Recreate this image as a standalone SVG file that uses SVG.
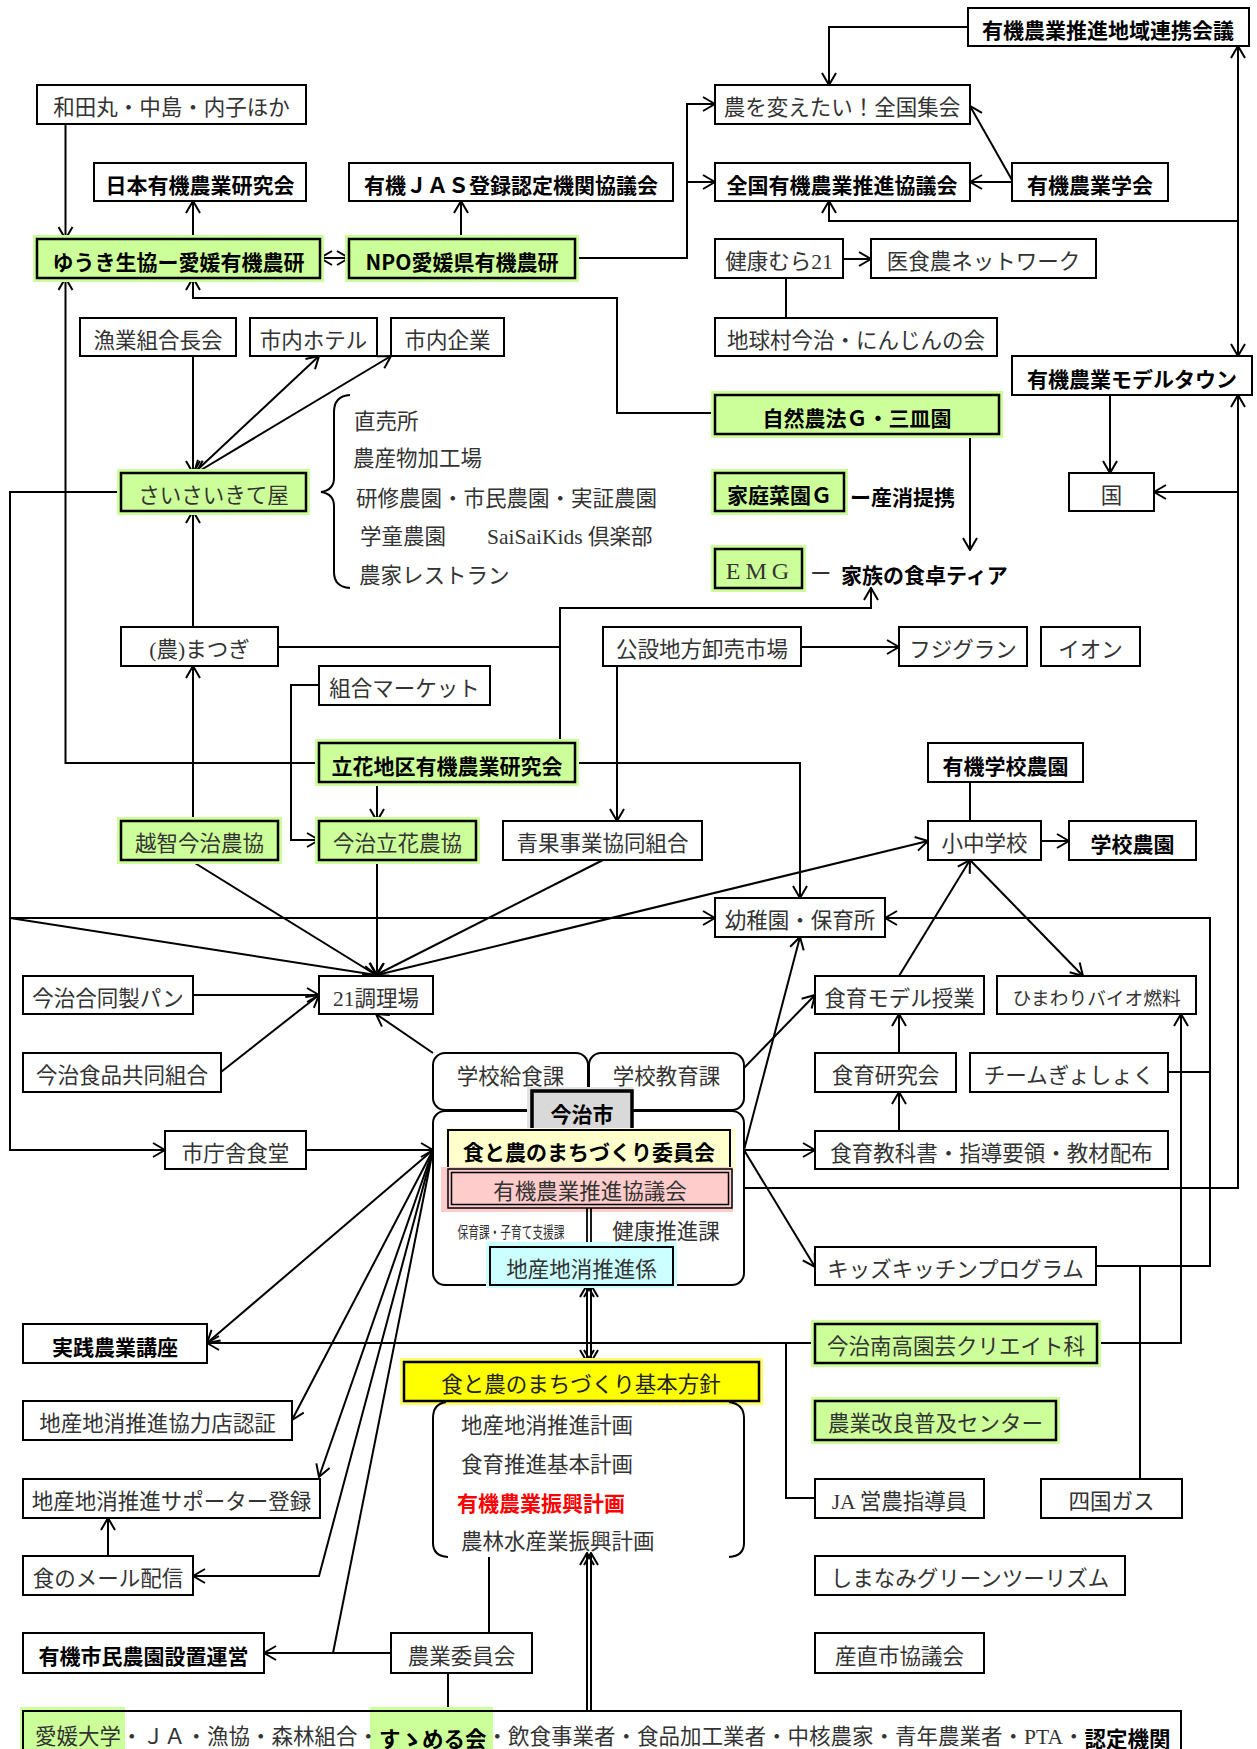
<svg xmlns="http://www.w3.org/2000/svg" width="1257" height="1749" viewBox="0 0 1257 1749">
<style>
.b{fill:#fff;stroke:#000;stroke-width:2}
.g{fill:#ccff99;stroke:#000;stroke-width:2.5}
.h{fill:#ccff99}
.n{font-family:'Liberation Serif','Noto Sans CJK JP',serif;font-size:21.5px;fill:#333;text-anchor:middle;dominant-baseline:central;transform:translateY(3.5px)}
.k{font-family:'Noto Sans CJK JP',sans-serif;font-weight:700;font-size:21px;fill:#000;text-anchor:middle;dominant-baseline:central;transform:translateY(2px)}
.l{text-anchor:start}
.c{fill:none;stroke:#000;stroke-width:2}
</style>
<defs>
<marker id="ar" viewBox="0 0 14 16" refX="13" refY="8" markerWidth="14" markerHeight="16" markerUnits="userSpaceOnUse" orient="auto-start-reverse"><path d="M1,1 L13,8 L1,15" fill="none" stroke="#000" stroke-width="2"/></marker>
</defs>
<rect width="1257" height="1749" fill="#fff"/>

<g id="connectors" class="c">
<path d="M968,27 L829,27 L829,85" marker-end="url(#ar)"/>
<path d="M575,258 L687,258 L687,104 L715,104" marker-end="url(#ar)"/>
<path d="M687,182 L715,182" marker-end="url(#ar)"/>
<path d="M1012,182 L970,182" marker-end="url(#ar)"/>
<path d="M1012,180 L970,106" marker-end="url(#ar)"/>
<path d="M1238,46 L1238,356" marker-start="url(#ar)" marker-end="url(#ar)"/>
<path d="M1238,221 L829,221 L829,201" marker-end="url(#ar)"/>
<path d="M744,1188 L1238,1188 L1238,395" marker-end="url(#ar)"/>
<path d="M1238,492 L1154,492" marker-end="url(#ar)"/>
<path d="M1110,395 L1110,473" marker-end="url(#ar)"/>
<path d="M843,259 L871,259" marker-end="url(#ar)"/>
<path d="M786,278 L786,318"/>
<path d="M65.5,124 L65.5,239" marker-end="url(#ar)"/>
<path d="M193,239 L193,201" marker-end="url(#ar)"/>
<path d="M461,239 L461,201" marker-end="url(#ar)"/>
<path d="M320,258 L349,258" marker-start="url(#ar)" marker-end="url(#ar)"/>
<path d="M715,413 L617,413 L617,298 L193,298 L193,278" marker-end="url(#ar)"/>
<path d="M319,763 L65.5,763 L65.5,278" marker-end="url(#ar)"/>
<path d="M193,356 L193,473" marker-end="url(#ar)"/>
<path d="M194,473 L319,356" marker-start="url(#ar)" marker-end="url(#ar)"/>
<path d="M196,473 L391,356" marker-start="url(#ar)" marker-end="url(#ar)"/>
<path d="M121,492 L10,492 L10,1150 L165,1150" marker-end="url(#ar)"/>
<path d="M10,918 L715,918" marker-end="url(#ar)"/>
<path d="M10,918 L376,975" marker-end="url(#ar)"/>
<path d="M193,627 L193,511" marker-end="url(#ar)"/>
<path d="M193,821 L193,666" marker-end="url(#ar)"/>
<path d="M278,647 L560,647"/>
<path d="M560,743 L560,608 L871,608 L871,588" marker-end="url(#ar)"/>
<path d="M970,434 L970,550" marker-end="url(#ar)"/>
<path d="M801,647 L899,647" marker-end="url(#ar)"/>
<path d="M617,666 L617,821" marker-end="url(#ar)"/>
<path d="M319,685 L291,685 L291,840 L319,840" marker-end="url(#ar)"/>
<path d="M377,782 L377,821" marker-end="url(#ar)"/>
<path d="M575,763 L800,763 L800,898" marker-end="url(#ar)"/>
<path d="M190,860 L376,975" marker-end="url(#ar)"/>
<path d="M377,860 L377,975" marker-end="url(#ar)"/>
<path d="M603,860 L376,975" marker-end="url(#ar)"/>
<path d="M377,975 L928,841" marker-end="url(#ar)"/>
<path d="M970,782 L970,821"/>
<path d="M1041,841 L1069,841" marker-end="url(#ar)"/>
<path d="M899,976 L970,860" marker-end="url(#ar)"/>
<path d="M970,860 L1083,976" marker-end="url(#ar)"/>
<path d="M899,1053 L899,1014" marker-end="url(#ar)"/>
<path d="M899,1131 L899,1092" marker-end="url(#ar)"/>
<path d="M1096,1266 L1210,1266 L1210,918 L885,918" marker-end="url(#ar)"/>
<path d="M1168,1072 L1210,1072"/>
<path d="M1140,1266 L1140,1479"/>
<path d="M1097,1343 L1181,1343 L1181,1014" marker-end="url(#ar)"/>
<path d="M744,1068 L815,995" marker-end="url(#ar)"/>
<path d="M744,1150 L800,937" marker-end="url(#ar)"/>
<path d="M744,1150 L815,1150" marker-end="url(#ar)"/>
<path d="M744,1150 L815,1267" marker-end="url(#ar)"/>
<path d="M193,995 L319,995" marker-end="url(#ar)"/>
<path d="M221,1072 L319,995" marker-end="url(#ar)"/>
<path d="M433,1053 L376,1014" marker-end="url(#ar)"/>
<path d="M306,1150 L433,1150" marker-end="url(#ar)"/>
<path d="M433,1150 L207,1343" marker-end="url(#ar)"/>
<path d="M433,1150 L292,1420" marker-end="url(#ar)"/>
<path d="M433,1150 L319,1477" marker-end="url(#ar)"/>
<path d="M433,1150 L319,1576 L193,1576" marker-end="url(#ar)"/>
<path d="M433,1150 L333,1653"/>
<path d="M391,1653 L264,1653" marker-end="url(#ar)"/>
<path d="M108,1556 L108,1518" marker-end="url(#ar)"/>
<path d="M815,1343 L207,1343" marker-end="url(#ar)"/>
<path d="M786,1343 L786,1498 L815,1498"/>
<path d="M587,1285 L587,1362" marker-start="url(#ar)" marker-end="url(#ar)"/>
<path d="M591,1285 L591,1362" marker-start="url(#ar)" marker-end="url(#ar)"/>
<path d="M587,1711 L587,1553" marker-end="url(#ar)"/>
<path d="M591,1711 L591,1553" marker-end="url(#ar)"/>
<path d="M489,1557 L489,1633"/>
<path d="M448,1673 L448,1711"/>
</g>

<g id="n-renkei"><rect class="b" x="968" y="8" width="281" height="38"/><text class="k" x="1108" y="27">有機農業推進地域連携会議</text></g>
<g id="n-zenkoku-shukai"><rect class="b" x="715" y="85" width="255" height="39"/><text class="n" x="842" y="104.5">農を変えたい！全国集会</text></g>
<g id="n-zenkoku-kyogikai"><rect class="b" x="715" y="163" width="255" height="38"/><text class="k" x="842" y="182">全国有機農業推進協議会</text></g>
<g id="n-gakkai"><rect class="b" x="1012" y="163" width="156" height="38"/><text class="k" x="1090" y="182">有機農業学会</text></g>
<g id="n-wadamaru"><rect class="b" x="37" y="85" width="269" height="39"/><text class="n" x="171.5" y="104.5">和田丸・中島・内子ほか</text></g>
<g id="n-nihon"><rect class="b" x="94" y="163" width="212" height="38"/><text class="k" x="200" y="182">日本有機農業研究会</text></g>
<g id="n-jas"><rect class="b" x="349" y="163" width="324" height="38"/><text class="k" x="511" y="182">有機ＪＡＳ登録認定機関協議会</text></g>
<g id="n-yuuki"><rect class="h" x="33" y="235" width="291" height="47"/><rect class="g" x="37" y="239" width="283" height="39"/><text class="k" x="178.5" y="258.5">ゆうき生協ー愛媛有機農研</text></g>
<g id="n-npo"><rect class="h" x="345" y="235" width="234" height="47"/><rect class="g" x="349" y="239" width="226" height="39"/><text class="k" x="462" y="258.5">NPO愛媛県有機農研</text></g>
<g id="n-kenko21"><rect class="b" x="715" y="239" width="128" height="39"/><text class="n" x="779" y="258.5">健康むら21</text></g>
<g id="n-ishokuno"><rect class="b" x="871" y="239" width="225" height="39"/><text class="n" x="983.5" y="258.5">医食農ネットワーク</text></g>
<g id="n-chikyumura"><rect class="b" x="715" y="318" width="282" height="38"/><text class="n" x="856" y="337">地球村今治・にんじんの会</text></g>
<g id="n-gyogyo"><rect class="b" x="80" y="318" width="156" height="38"/><text class="n" x="158" y="337">漁業組合長会</text></g>
<g id="n-hotel"><rect class="b" x="250" y="318" width="127" height="38"/><text class="n" x="313.5" y="337">市内ホテル</text></g>
<g id="n-kigyo"><rect class="b" x="391" y="318" width="113" height="38"/><text class="n" x="447.5" y="337">市内企業</text></g>
<g id="n-modeltown"><rect class="b" x="1012" y="356" width="240" height="39"/><text class="k" x="1132" y="375.5">有機農業モデルタウン</text></g>
<g id="n-shizen"><rect class="h" x="711" y="391" width="292" height="47"/><rect class="g" x="715" y="395" width="284" height="39"/><text class="k" x="857" y="414.5">自然農法Ｇ・三皿園</text></g>
<g id="n-saisai"><rect class="h" x="117" y="469" width="193" height="46"/><rect class="g" x="121" y="473" width="185" height="38"/><text class="n" x="213.5" y="492">さいさいきて屋</text></g>
<g id="n-saisai-list">
<path class="c" d="M350,395 Q334,396 334,412 L334,478 Q334,490 321,492 Q334,494 334,506 L334,572 Q334,587 350,588"/>
<text class="n l" x="354" y="418">直売所</text>
<text class="n l" x="353" y="455">農産物加工場</text>
<text class="n l" x="356" y="495">研修農園・市民農園・実証農園</text>
<text class="n l" x="360" y="533">学童農園</text>
<text class="n l" x="487" y="533">SaiSaiKids 倶楽部</text>
<text class="n l" x="359" y="572">農家レストラン</text>
</g>
<g id="n-katei"><rect class="h" x="711" y="469" width="137" height="46"/><rect class="g" x="715" y="473" width="129" height="38"/><text class="k" x="779.5" y="492">家庭菜園Ｇ</text><text class="k l" x="850" y="494">ー産消提携</text></g>
<g id="n-kuni"><rect class="b" x="1069" y="473" width="85" height="38"/><text class="n" x="1111.5" y="492">国</text></g>
<g id="n-emg"><rect class="h" x="711" y="545" width="95" height="47"/><rect class="g" x="715" y="549" width="87" height="39"/><text class="n" x="760" y="567" style="letter-spacing:5px;font-size:24px">EMG</text><text class="n l" x="810" y="570">ー</text><text class="k l" x="841" y="572">家族の食卓ティア</text></g>
<g id="n-matsugi"><rect class="b" x="121" y="627" width="157" height="39"/><text class="n" x="199.5" y="646.5">(農)まつぎ</text></g>
<g id="n-kosetsu"><rect class="b" x="603" y="627" width="198" height="39"/><text class="n" x="702" y="646.5">公設地方卸売市場</text></g>
<g id="n-fuji"><rect class="b" x="899" y="627" width="128" height="39"/><text class="n" x="963" y="646.5">フジグラン</text></g>
<g id="n-aeon"><rect class="b" x="1041" y="627" width="99" height="39"/><text class="n" x="1090.5" y="646.5">イオン</text></g>
<g id="n-kumiai"><rect class="b" x="319" y="666" width="171" height="39"/><text class="n" x="404.5" y="685.5">組合マーケット</text></g>
<g id="n-tachibana-ken"><rect class="h" x="315" y="739" width="264" height="47"/><rect class="g" x="319" y="743" width="256" height="39"/><text class="k" x="447" y="762.5">立花地区有機農業研究会</text></g>
<g id="n-yuki-gakko"><rect class="b" x="928" y="743" width="155" height="39"/><text class="k" x="1005.5" y="762.5">有機学校農園</text></g>
<g id="n-ochi"><rect class="h" x="117" y="817" width="165" height="47"/><rect class="g" x="121" y="821" width="157" height="39"/><text class="n" x="199.5" y="840.5">越智今治農協</text></g>
<g id="n-tachibana-nk"><rect class="h" x="315" y="817" width="165" height="47"/><rect class="g" x="319" y="821" width="157" height="39"/><text class="n" x="397.5" y="840.5">今治立花農協</text></g>
<g id="n-seika"><rect class="b" x="503" y="821" width="199" height="39"/><text class="n" x="602.5" y="840.5">青果事業協同組合</text></g>
<g id="n-shochu"><rect class="b" x="928" y="821" width="113" height="39"/><text class="n" x="984.5" y="840.5">小中学校</text></g>
<g id="n-gakko-noen"><rect class="b" x="1069" y="821" width="127" height="39"/><text class="k" x="1132.5" y="840.5">学校農園</text></g>
<g id="n-yochien"><rect class="b" x="715" y="898" width="170" height="39"/><text class="n" x="800" y="917.5">幼稚園・保育所</text></g>
<g id="n-pan"><rect class="b" x="23" y="976" width="170" height="38"/><text class="n" x="108" y="995">今治合同製パン</text></g>
<g id="n-21"><rect class="b" x="319" y="976" width="114" height="38"/><text class="n" x="376" y="995">21調理場</text></g>
<g id="n-model"><rect class="b" x="815" y="976" width="169" height="38"/><text class="n" x="899.5" y="995">食育モデル授業</text></g>
<g id="n-himawari"><rect class="b" x="997" y="976" width="199" height="38"/><text class="n" x="1096.5" y="995" style="font-size:18.7px">ひまわりバイオ燃料</text></g>
<g id="n-shokuhin"><rect class="b" x="23" y="1053" width="198" height="39"/><text class="n" x="122" y="1072.5">今治食品共同組合</text></g>
<g id="n-shokuiku-ken"><rect class="b" x="815" y="1053" width="141" height="39"/><text class="n" x="885.5" y="1072.5">食育研究会</text></g>
<g id="n-team"><rect class="b" x="970" y="1053" width="198" height="39"/><text class="n" x="1069" y="1072.5">チームぎょしょく</text></g>
<g id="n-chosha"><rect class="b" x="165" y="1131" width="141" height="38"/><text class="n" x="235.5" y="1150">市庁舎食堂</text></g>
<g id="n-kyokasho"><rect class="b" x="815" y="1131" width="353" height="38"/><text class="n" x="991.5" y="1150">食育教科書・指導要領・教材配布</text></g>
<g id="n-kids"><rect class="b" x="815" y="1247" width="281" height="38"/><text class="n" x="955.5" y="1266">キッズキッチンプログラム</text></g>

<g id="n-imabari">
<rect class="b" x="433" y="1053" width="155" height="57" rx="12"/>
<text class="n" x="510.5" y="1073">学校給食課</text>
<rect class="b" x="589" y="1053" width="155" height="57" rx="12"/>
<text class="n" x="666.5" y="1073">学校教育課</text>
<rect class="b" x="433" y="1111" width="311" height="174" rx="12"/>
<rect x="527" y="1087" width="106" height="44" fill="#e3e3e3"/>
<rect x="532" y="1091" width="100" height="39" fill="#d9d9d9" stroke="#000" stroke-width="3.5"/>
<text class="k" x="582" y="1111">今治市</text>
<rect x="446" y="1128" width="290" height="42" fill="#ffffd9"/>
<rect x="448" y="1130" width="282" height="38" fill="#ffffcc" stroke="#000" stroke-width="2"/>
<text class="k" x="589" y="1149">食と農のまちづくり委員会</text>
<rect x="441" y="1167" width="292" height="45" fill="#ffcccc"/>
<rect x="448" y="1169" width="284" height="39" fill="#ffcccc" stroke="#000" stroke-width="1.5"/>
<rect x="451.5" y="1172.5" width="277" height="32" fill="none" stroke="#000" stroke-width="1.5"/>
<text class="n" x="590" y="1188">有機農業推進協議会</text>
<text class="n" x="511" y="1229" style="font-size:16px" textLength="107" lengthAdjust="spacingAndGlyphs">保育課・子育て支援課</text>
<path class="c" d="M587,1208 L587,1247 M591,1208 L591,1247" style="stroke-width:1.8"/>
<text class="n" x="666" y="1228.5">健康推進課</text>
<rect x="486" y="1242" width="191" height="46" fill="#ccffff"/>
<rect x="490" y="1247" width="183" height="38" fill="#ccffff" stroke="#000" stroke-width="2"/>
<text class="n" x="581.5" y="1266">地産地消推進係</text>
</g>

<g id="n-jissen"><rect class="b" x="23" y="1324" width="184" height="39"/><text class="k" x="115" y="1343.5">実践農業講座</text></g>
<g id="n-minami"><rect class="h" x="811" y="1320" width="290" height="47"/><rect class="g" x="815" y="1324" width="282" height="39"/><text class="n" x="956" y="1343.5">今治南高園芸クリエイト科</text></g>
<g id="n-hoshin">
<rect x="400" y="1358" width="363" height="47" fill="#ffff66"/>
<rect x="404" y="1362" width="355" height="39" fill="#ffff00" stroke="#000" stroke-width="2.5"/>
<text class="n" x="581" y="1381.5" style="fill:#222">食と農のまちづくり基本方針</text>
<path class="c" d="M446,1402 Q433,1404 433,1418 L433,1543 Q433,1556 448,1557"/>
<path class="c" d="M729,1402 Q744,1404 744,1418 L744,1543 Q744,1556 729,1557"/>
<text class="n l" x="461" y="1422">地産地消推進計画</text>
<text class="n l" x="461" y="1461">食育推進基本計画</text>
<text class="k l" x="457" y="1500" style="fill:#ff0000">有機農業振興計画</text>
<text class="n l" x="461" y="1538">農林水産業振興計画</text>
</g>
<g id="n-kyoryokuten"><rect class="b" x="23" y="1401" width="269" height="39"/><text class="n" x="157.5" y="1420.5">地産地消推進協力店認証</text></g>
<g id="n-kairyo"><rect class="h" x="811" y="1397" width="249" height="47"/><rect class="g" x="815" y="1401" width="241" height="39"/><text class="n" x="935.5" y="1420.5">農業改良普及センター</text></g>
<g id="n-supporter"><rect class="b" x="23" y="1479" width="297" height="39"/><text class="n" x="171.5" y="1498.5">地産地消推進サポーター登録</text></g>
<g id="n-ja"><rect class="b" x="815" y="1479" width="169" height="39"/><text class="n" x="899.5" y="1498.5">JA 営農指導員</text></g>
<g id="n-gas"><rect class="b" x="1041" y="1479" width="141" height="39"/><text class="n" x="1111.5" y="1498.5">四国ガス</text></g>
<g id="n-mail"><rect class="b" x="23" y="1556" width="170" height="39"/><text class="n" x="108" y="1575.5">食のメール配信</text></g>
<g id="n-shimanami"><rect class="b" x="815" y="1556" width="310" height="39"/><text class="n" x="970" y="1575.5">しまなみグリーンツーリズム</text></g>
<g id="n-shimin"><rect class="b" x="23" y="1633" width="241" height="40"/><text class="k" x="143.5" y="1653">有機市民農園設置運営</text></g>
<g id="n-nogyo-iin"><rect class="b" x="391" y="1633" width="141" height="40"/><text class="n" x="461.5" y="1653">農業委員会</text></g>
<g id="n-sanchoku"><rect class="b" x="815" y="1633" width="169" height="40"/><text class="n" x="899.5" y="1653">産直市協議会</text></g>

<g id="n-members">
<rect x="23" y="1711" width="1158" height="60" fill="#fff"/>
<rect class="h" x="20" y="1707" width="105" height="50"/>
<rect class="h" x="370" y="1707" width="123" height="50"/>
<rect x="23" y="1711" width="1158" height="60" fill="none" stroke="#000" stroke-width="2"/>
<text class="n l" x="35" y="1733">愛媛大学・ＪＡ・漁協・森林組合・<tspan style="font-family:'Noto Sans CJK JP',sans-serif;font-weight:700;fill:#000">すゝめる会</tspan>・飲食事業者・食品加工業者・中核農家・青年農業者・PTA・<tspan style="font-family:'Noto Sans CJK JP',sans-serif;font-weight:700;fill:#000">認定機関</tspan></text>
</g>
</svg>
